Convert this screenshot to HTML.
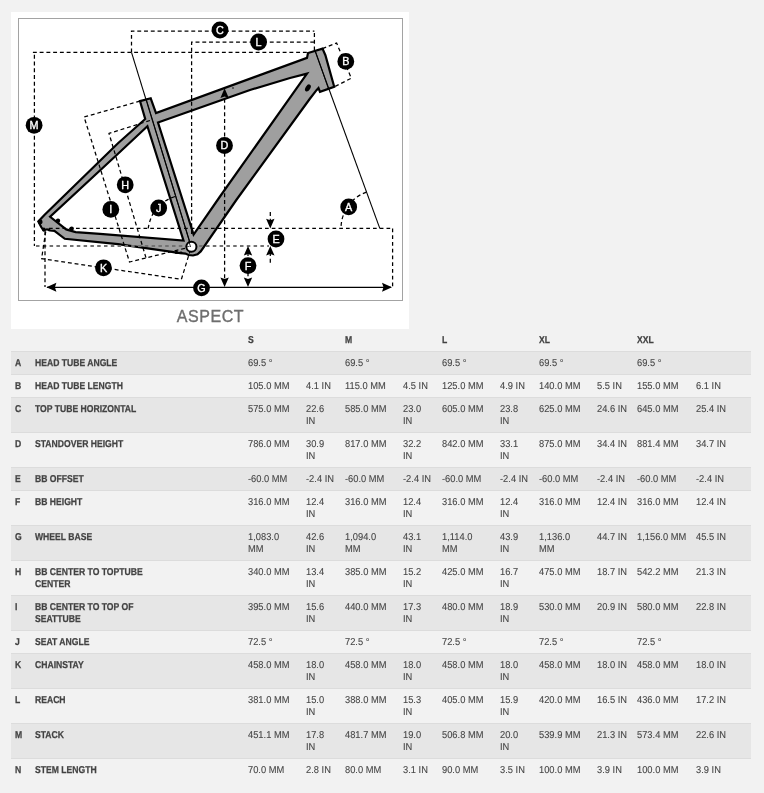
<!DOCTYPE html>
<html><head><meta charset="utf-8">
<style>
html,body{margin:0;padding:0;}
body{width:764px;height:793px;background:#f2f2f2;position:relative;overflow:hidden;font-family:"Liberation Sans",Arial,sans-serif;color:#555;}
#panel{position:absolute;left:11px;top:12px;width:398px;height:317px;background:#fff;}
#frame{position:absolute;left:17.5px;top:17.5px;width:383.5px;height:281.5px;border:1.5px solid #a3a3a3;}
#aspect{position:absolute;left:0;top:307px;width:420px;text-align:center;font-size:16px;letter-spacing:0.6px;text-indent:0.9px;color:#6e6e6e;line-height:20px;-webkit-text-stroke:0.35px #6e6e6e;}
#draw{position:absolute;left:0;top:0;}
.row{position:absolute;left:11px;width:740px;box-sizing:border-box;}
.d{background:#e6e6e6;border-top:1px solid #dcdcdc;}
.l{background:#f2f2f2;border-top:1px solid #dcdcdc;}
.c{position:absolute;font-size:10px;line-height:12px;white-space:nowrap;text-rendering:geometricPrecision;transform:scaleX(0.932);transform-origin:0 0;color:#454545;-webkit-text-stroke:0.1px #454545;}
.b{font-weight:bold;transform:scaleX(0.86);color:#424242;-webkit-text-stroke:0.25px #424242;}
</style></head><body>
<div id="panel"></div>
<div id="frame"></div>
<div id="aspect">ASPECT</div>
<svg id="draw" width="420" height="330" viewBox="0 0 420 330">
<path d="M140,101.1 L150.7,98.3 L156,113.1 L307,57.9 L308,53 L322.5,48.6 L325.4,55.2 L334.2,86.8 L320,91.8 L318.5,88 L316.5,90.2 L309.3,99.5 L236.3,200 L200.7,251.4 L197.5,254.3 L193,255.5 L188.5,255 L185.5,253.6 L176,252.6 L172,251.9 L118,244.2 L64.8,238.8 L54.4,230.8 L50,230.5 L47,229.3 L43.5,230.5 L41.2,227 L38.3,221.5 L44.4,215 L118,143.2 L145.2,119 Z M158,122.5 L250,90 L290,78 L307,73.6 L219.3,197.5 L193.6,234.6 Z M147.4,126.2 L118,153.7 L50.1,216.8 L66.2,229.4 L75.6,232.1 L100,233.9 L183.5,240.5 Z" fill="#9f9f9f" fill-rule="evenodd" stroke="#000" stroke-width="2.2" stroke-linejoin="miter"/>
<polyline points="34.4,54.8 34.4,246" stroke="#000" stroke-width="1.25" stroke-dasharray="3.9 2.85" fill="none"/>
<polyline points="32.9,52.3 307,52.3" stroke="#000" stroke-width="1.25" stroke-dasharray="3.9 2.85" fill="none"/>
<polyline points="36,246 269,246" stroke="#727272" stroke-width="2" stroke-dasharray="3.5 3.3" fill="none"/>
<polyline points="131.5,52.3 131.5,31.1 314.4,31.1" stroke="#000" stroke-width="1.25" stroke-dasharray="3.9 2.85" fill="none"/>
<polyline points="314.4,50.5 314.4,31.1" stroke="#000" stroke-width="1.25" stroke-dasharray="3.9 2.85" fill="none"/>
<polyline points="191.6,234 191.6,42.2 314.6,42.2" stroke="#000" stroke-width="1.25" stroke-dasharray="3.9 2.85" fill="none"/>
<polyline points="224.6,92 224.6,280" stroke="#000" stroke-width="1.25" stroke-dasharray="3.9 2.85" fill="none"/>
<polyline points="49,228.4 392.6,228.4" stroke="#000" stroke-width="1.3" stroke-dasharray="3.7 3.05" fill="none"/>
<polyline points="392.6,228.4 392.6,287" stroke="#000" stroke-width="1.25" stroke-dasharray="3.9 2.85" fill="none"/>
<polyline points="45,231 45,287" stroke="#000" stroke-width="1.25" stroke-dasharray="3.9 2.85" fill="none"/>
<polyline points="248,252 248,281" stroke="#000" stroke-width="1.25" stroke-dasharray="3.9 2.85" fill="none"/>
<polyline points="270.3,212 270.3,222" stroke="#000" stroke-width="1.25" stroke-dasharray="3.9 2.85" fill="none"/>
<polyline points="270.3,252 270.3,263" stroke="#000" stroke-width="1.25" stroke-dasharray="3.9 2.85" fill="none"/>
<polyline points="322.5,48.6 336.6,43 351.3,78.2 334,87" stroke="#000" stroke-width="1.25" stroke-dasharray="3.9 2.85" fill="none"/>
<polyline points="140,101.1 84.1,117 129.5,262 191.4,246.7" stroke="#000" stroke-width="1.25" stroke-dasharray="3.9 2.85" fill="none"/>
<polyline points="150,120.5 109,133.4 146,257.9" stroke="#000" stroke-width="1.25" stroke-dasharray="3.9 2.85" fill="none"/>
<polyline points="45.7,231.6 41.6,258.7 181.4,279.3 191,248" stroke="#000" stroke-width="1.25" stroke-dasharray="3.9 2.85" fill="none"/>
<path d="M366.4,192.1 A38.5,38.5 0 0 0 341,228.4" stroke="#000" stroke-width="1.25" stroke-dasharray="3.9 2.85" fill="none"/>
<path d="M175,196.5 Q152,204 148.2,228.4" stroke="#000" stroke-width="1.25" stroke-dasharray="3.9 2.85" fill="none"/>
<line x1="314.7" y1="50" x2="379.8" y2="228.4" stroke="#000" stroke-width="1.1"/>
<line x1="131.5" y1="52.3" x2="191" y2="246" stroke="#000" stroke-width="1.1"/>
<line x1="47" y1="287.3" x2="391" y2="287.3" stroke="#000" stroke-width="1.3"/>
<line x1="146" y1="98.5" x2="189" y2="240" stroke="#000" stroke-width="0.9"/>
<line x1="315" y1="50" x2="328.5" y2="89" stroke="#000" stroke-width="0.9"/>
<ellipse cx="307.9" cy="87.9" rx="3.9" ry="2.3" transform="rotate(-57 307.9 87.9)" fill="#000"/>
<circle cx="191.4" cy="246.7" r="5.05" fill="#fff" stroke="#000" stroke-width="2"/>
<line x1="188.6" y1="240.5" x2="190.6" y2="247" stroke="#000" stroke-width="0.8"/>
<line x1="187" y1="246.5" x2="189.5" y2="246.5" stroke="#555" stroke-width="1"/>
<circle cx="58" cy="220.7" r="2.2" fill="#000"/>
<circle cx="71.7" cy="228.6" r="2.2" fill="#000"/>
<circle cx="40.3" cy="221.9" r="2.3" fill="#000"/>
<circle cx="43.8" cy="229.4" r="1.8" fill="#000"/>
<circle cx="49" cy="229.9" r="1.3" fill="#000"/>
<circle cx="176.5" cy="252.4" r="1.7" fill="#000"/>
<circle cx="181" cy="252.8" r="1.4" fill="#000"/>
<polygon points="224.6,88.3 220.4,97.9 224.6,96.4 228.8,97.9" fill="#000"/>
<circle cx="233" cy="88" r="0.8" fill="#000"/>
<polygon points="224.6,287.0 220.4,277.4 224.6,278.9 228.8,277.4" fill="#000"/>
<polygon points="248.0,246.0 243.8,255.6 248.0,254.1 252.2,255.6" fill="#000"/>
<polygon points="248.0,287.0 243.8,277.4 248.0,278.9 252.2,277.4" fill="#000"/>
<polygon points="270.3,228.4 266.1,218.8 270.3,220.3 274.5,218.8" fill="#000"/>
<polygon points="270.3,246.0 266.1,255.6 270.3,254.1 274.5,255.6" fill="#000"/>
<polygon points="46.4,287.3 56.4,282.8 54.9,287.3 56.4,291.8" fill="#000"/>
<polygon points="392.0,287.3 382.0,282.8 383.5,287.3 382.0,291.8" fill="#000"/>
<circle cx="220" cy="30" r="8.4" fill="#000"/><text x="220" y="33.95" text-anchor="middle" font-family="Liberation Sans, Arial, sans-serif" font-size="10.8" fill="#fff" stroke="#fff" stroke-width="0.35">C</text>
<circle cx="258.6" cy="42" r="8.4" fill="#000"/><text x="258.6" y="45.95" text-anchor="middle" font-family="Liberation Sans, Arial, sans-serif" font-size="10.8" fill="#fff" stroke="#fff" stroke-width="0.35">L</text>
<circle cx="345.8" cy="61.4" r="8.4" fill="#000"/><text x="345.8" y="65.35" text-anchor="middle" font-family="Liberation Sans, Arial, sans-serif" font-size="10.8" fill="#fff" stroke="#fff" stroke-width="0.35">B</text>
<circle cx="34.1" cy="125.3" r="8.4" fill="#000"/><text x="34.1" y="129.25" text-anchor="middle" font-family="Liberation Sans, Arial, sans-serif" font-size="10.8" fill="#fff" stroke="#fff" stroke-width="0.35">M</text>
<circle cx="224.5" cy="145.5" r="8.4" fill="#000"/><text x="224.5" y="149.45" text-anchor="middle" font-family="Liberation Sans, Arial, sans-serif" font-size="10.8" fill="#fff" stroke="#fff" stroke-width="0.35">D</text>
<circle cx="125.2" cy="184.8" r="8.4" fill="#000"/><text x="125.2" y="188.75" text-anchor="middle" font-family="Liberation Sans, Arial, sans-serif" font-size="10.8" fill="#fff" stroke="#fff" stroke-width="0.35">H</text>
<circle cx="110.8" cy="209.4" r="8.4" fill="#000"/><text x="110.8" y="213.35" text-anchor="middle" font-family="Liberation Sans, Arial, sans-serif" font-size="10.8" fill="#fff" stroke="#fff" stroke-width="0.35">I</text>
<circle cx="158.7" cy="208" r="8.4" fill="#000"/><text x="158.7" y="211.95" text-anchor="middle" font-family="Liberation Sans, Arial, sans-serif" font-size="10.8" fill="#fff" stroke="#fff" stroke-width="0.35">J</text>
<circle cx="348.7" cy="206.9" r="8.4" fill="#000"/><text x="348.7" y="210.85" text-anchor="middle" font-family="Liberation Sans, Arial, sans-serif" font-size="10.8" fill="#fff" stroke="#fff" stroke-width="0.35">A</text>
<circle cx="276" cy="239" r="8.4" fill="#000"/><text x="276" y="242.95" text-anchor="middle" font-family="Liberation Sans, Arial, sans-serif" font-size="10.8" fill="#fff" stroke="#fff" stroke-width="0.35">E</text>
<circle cx="248" cy="265.6" r="8.4" fill="#000"/><text x="248" y="269.55" text-anchor="middle" font-family="Liberation Sans, Arial, sans-serif" font-size="10.8" fill="#fff" stroke="#fff" stroke-width="0.35">F</text>
<circle cx="103.5" cy="267.8" r="8.4" fill="#000"/><text x="103.5" y="271.75" text-anchor="middle" font-family="Liberation Sans, Arial, sans-serif" font-size="10.8" fill="#fff" stroke="#fff" stroke-width="0.35">K</text>
<circle cx="201.5" cy="287.9" r="8.4" fill="#000"/><text x="201.5" y="291.85" text-anchor="middle" font-family="Liberation Sans, Arial, sans-serif" font-size="10.8" fill="#fff" stroke="#fff" stroke-width="0.35">G</text>
</svg>
<div class="row hdr" style="top:329px;height:22px">
<span class="c b" style="left:236.5px;top:6.0px">S</span>
<span class="c b" style="left:334px;top:6.0px">M</span>
<span class="c b" style="left:431px;top:6.0px">L</span>
<span class="c b" style="left:528px;top:6.0px">XL</span>
<span class="c b" style="left:626px;top:6.0px">XXL</span>
</div>
<div class="row d" style="top:351px;height:23px">
<span class="c b" style="left:4px;top:6.0px">A</span>
<span class="c b" style="left:23.6px;top:6.0px">HEAD TUBE ANGLE</span>
<span class="c" style="left:236.5px;top:6.0px">69.5 °</span>
<span class="c" style="left:334px;top:6.0px">69.5 °</span>
<span class="c" style="left:431px;top:6.0px">69.5 °</span>
<span class="c" style="left:528px;top:6.0px">69.5 °</span>
<span class="c" style="left:626px;top:6.0px">69.5 °</span>
</div>
<div class="row l" style="top:374px;height:23px">
<span class="c b" style="left:4px;top:6.0px">B</span>
<span class="c b" style="left:23.6px;top:6.0px">HEAD TUBE LENGTH</span>
<span class="c" style="left:236.5px;top:6.0px">105.0 MM</span>
<span class="c" style="left:294.5px;top:6.0px">4.1 IN</span>
<span class="c" style="left:334px;top:6.0px">115.0 MM</span>
<span class="c" style="left:392px;top:6.0px">4.5 IN</span>
<span class="c" style="left:431px;top:6.0px">125.0 MM</span>
<span class="c" style="left:489px;top:6.0px">4.9 IN</span>
<span class="c" style="left:528px;top:6.0px">140.0 MM</span>
<span class="c" style="left:586px;top:6.0px">5.5 IN</span>
<span class="c" style="left:626px;top:6.0px">155.0 MM</span>
<span class="c" style="left:684.5px;top:6.0px">6.1 IN</span>
</div>
<div class="row d" style="top:397px;height:35px">
<span class="c b" style="left:4px;top:6.0px">C</span>
<span class="c b" style="left:23.6px;top:6.0px">TOP TUBE HORIZONTAL</span>
<span class="c" style="left:236.5px;top:6.0px">575.0 MM</span>
<span class="c" style="left:294.5px;top:6.0px">22.6<br>IN</span>
<span class="c" style="left:334px;top:6.0px">585.0 MM</span>
<span class="c" style="left:392px;top:6.0px">23.0<br>IN</span>
<span class="c" style="left:431px;top:6.0px">605.0 MM</span>
<span class="c" style="left:489px;top:6.0px">23.8<br>IN</span>
<span class="c" style="left:528px;top:6.0px">625.0 MM</span>
<span class="c" style="left:586px;top:6.0px">24.6 IN</span>
<span class="c" style="left:626px;top:6.0px">645.0 MM</span>
<span class="c" style="left:684.5px;top:6.0px">25.4 IN</span>
</div>
<div class="row l" style="top:432px;height:35px">
<span class="c b" style="left:4px;top:6.0px">D</span>
<span class="c b" style="left:23.6px;top:6.0px">STANDOVER HEIGHT</span>
<span class="c" style="left:236.5px;top:6.0px">786.0 MM</span>
<span class="c" style="left:294.5px;top:6.0px">30.9<br>IN</span>
<span class="c" style="left:334px;top:6.0px">817.0 MM</span>
<span class="c" style="left:392px;top:6.0px">32.2<br>IN</span>
<span class="c" style="left:431px;top:6.0px">842.0 MM</span>
<span class="c" style="left:489px;top:6.0px">33.1<br>IN</span>
<span class="c" style="left:528px;top:6.0px">875.0 MM</span>
<span class="c" style="left:586px;top:6.0px">34.4 IN</span>
<span class="c" style="left:626px;top:6.0px">881.4 MM</span>
<span class="c" style="left:684.5px;top:6.0px">34.7 IN</span>
</div>
<div class="row d" style="top:467px;height:23px">
<span class="c b" style="left:4px;top:6.0px">E</span>
<span class="c b" style="left:23.6px;top:6.0px">BB OFFSET</span>
<span class="c" style="left:236.5px;top:6.0px">-60.0 MM</span>
<span class="c" style="left:294.5px;top:6.0px">-2.4 IN</span>
<span class="c" style="left:334px;top:6.0px">-60.0 MM</span>
<span class="c" style="left:392px;top:6.0px">-2.4 IN</span>
<span class="c" style="left:431px;top:6.0px">-60.0 MM</span>
<span class="c" style="left:489px;top:6.0px">-2.4 IN</span>
<span class="c" style="left:528px;top:6.0px">-60.0 MM</span>
<span class="c" style="left:586px;top:6.0px">-2.4 IN</span>
<span class="c" style="left:626px;top:6.0px">-60.0 MM</span>
<span class="c" style="left:684.5px;top:6.0px">-2.4 IN</span>
</div>
<div class="row l" style="top:490px;height:35px">
<span class="c b" style="left:4px;top:6.0px">F</span>
<span class="c b" style="left:23.6px;top:6.0px">BB HEIGHT</span>
<span class="c" style="left:236.5px;top:6.0px">316.0 MM</span>
<span class="c" style="left:294.5px;top:6.0px">12.4<br>IN</span>
<span class="c" style="left:334px;top:6.0px">316.0 MM</span>
<span class="c" style="left:392px;top:6.0px">12.4<br>IN</span>
<span class="c" style="left:431px;top:6.0px">316.0 MM</span>
<span class="c" style="left:489px;top:6.0px">12.4<br>IN</span>
<span class="c" style="left:528px;top:6.0px">316.0 MM</span>
<span class="c" style="left:586px;top:6.0px">12.4 IN</span>
<span class="c" style="left:626px;top:6.0px">316.0 MM</span>
<span class="c" style="left:684.5px;top:6.0px">12.4 IN</span>
</div>
<div class="row d" style="top:525px;height:35px">
<span class="c b" style="left:4px;top:6.0px">G</span>
<span class="c b" style="left:23.6px;top:6.0px">WHEEL BASE</span>
<span class="c" style="left:236.5px;top:6.0px">1,083.0<br>MM</span>
<span class="c" style="left:294.5px;top:6.0px">42.6<br>IN</span>
<span class="c" style="left:334px;top:6.0px">1,094.0<br>MM</span>
<span class="c" style="left:392px;top:6.0px">43.1<br>IN</span>
<span class="c" style="left:431px;top:6.0px">1,114.0<br>MM</span>
<span class="c" style="left:489px;top:6.0px">43.9<br>IN</span>
<span class="c" style="left:528px;top:6.0px">1,136.0<br>MM</span>
<span class="c" style="left:586px;top:6.0px">44.7 IN</span>
<span class="c" style="left:626px;top:6.0px">1,156.0 MM</span>
<span class="c" style="left:684.5px;top:6.0px">45.5 IN</span>
</div>
<div class="row l" style="top:560px;height:35px">
<span class="c b" style="left:4px;top:6.0px">H</span>
<span class="c b" style="left:23.6px;top:6.0px">BB CENTER TO TOPTUBE<br>CENTER</span>
<span class="c" style="left:236.5px;top:6.0px">340.0 MM</span>
<span class="c" style="left:294.5px;top:6.0px">13.4<br>IN</span>
<span class="c" style="left:334px;top:6.0px">385.0 MM</span>
<span class="c" style="left:392px;top:6.0px">15.2<br>IN</span>
<span class="c" style="left:431px;top:6.0px">425.0 MM</span>
<span class="c" style="left:489px;top:6.0px">16.7<br>IN</span>
<span class="c" style="left:528px;top:6.0px">475.0 MM</span>
<span class="c" style="left:586px;top:6.0px">18.7 IN</span>
<span class="c" style="left:626px;top:6.0px">542.2 MM</span>
<span class="c" style="left:684.5px;top:6.0px">21.3 IN</span>
</div>
<div class="row d" style="top:595px;height:35px">
<span class="c b" style="left:4px;top:6.0px">I</span>
<span class="c b" style="left:23.6px;top:6.0px">BB CENTER TO TOP OF<br>SEATTUBE</span>
<span class="c" style="left:236.5px;top:6.0px">395.0 MM</span>
<span class="c" style="left:294.5px;top:6.0px">15.6<br>IN</span>
<span class="c" style="left:334px;top:6.0px">440.0 MM</span>
<span class="c" style="left:392px;top:6.0px">17.3<br>IN</span>
<span class="c" style="left:431px;top:6.0px">480.0 MM</span>
<span class="c" style="left:489px;top:6.0px">18.9<br>IN</span>
<span class="c" style="left:528px;top:6.0px">530.0 MM</span>
<span class="c" style="left:586px;top:6.0px">20.9 IN</span>
<span class="c" style="left:626px;top:6.0px">580.0 MM</span>
<span class="c" style="left:684.5px;top:6.0px">22.8 IN</span>
</div>
<div class="row l" style="top:630px;height:23px">
<span class="c b" style="left:4px;top:6.0px">J</span>
<span class="c b" style="left:23.6px;top:6.0px">SEAT ANGLE</span>
<span class="c" style="left:236.5px;top:6.0px">72.5 °</span>
<span class="c" style="left:334px;top:6.0px">72.5 °</span>
<span class="c" style="left:431px;top:6.0px">72.5 °</span>
<span class="c" style="left:528px;top:6.0px">72.5 °</span>
<span class="c" style="left:626px;top:6.0px">72.5 °</span>
</div>
<div class="row d" style="top:653px;height:35px">
<span class="c b" style="left:4px;top:6.0px">K</span>
<span class="c b" style="left:23.6px;top:6.0px">CHAINSTAY</span>
<span class="c" style="left:236.5px;top:6.0px">458.0 MM</span>
<span class="c" style="left:294.5px;top:6.0px">18.0<br>IN</span>
<span class="c" style="left:334px;top:6.0px">458.0 MM</span>
<span class="c" style="left:392px;top:6.0px">18.0<br>IN</span>
<span class="c" style="left:431px;top:6.0px">458.0 MM</span>
<span class="c" style="left:489px;top:6.0px">18.0<br>IN</span>
<span class="c" style="left:528px;top:6.0px">458.0 MM</span>
<span class="c" style="left:586px;top:6.0px">18.0 IN</span>
<span class="c" style="left:626px;top:6.0px">458.0 MM</span>
<span class="c" style="left:684.5px;top:6.0px">18.0 IN</span>
</div>
<div class="row l" style="top:688px;height:35px">
<span class="c b" style="left:4px;top:6.0px">L</span>
<span class="c b" style="left:23.6px;top:6.0px">REACH</span>
<span class="c" style="left:236.5px;top:6.0px">381.0 MM</span>
<span class="c" style="left:294.5px;top:6.0px">15.0<br>IN</span>
<span class="c" style="left:334px;top:6.0px">388.0 MM</span>
<span class="c" style="left:392px;top:6.0px">15.3<br>IN</span>
<span class="c" style="left:431px;top:6.0px">405.0 MM</span>
<span class="c" style="left:489px;top:6.0px">15.9<br>IN</span>
<span class="c" style="left:528px;top:6.0px">420.0 MM</span>
<span class="c" style="left:586px;top:6.0px">16.5 IN</span>
<span class="c" style="left:626px;top:6.0px">436.0 MM</span>
<span class="c" style="left:684.5px;top:6.0px">17.2 IN</span>
</div>
<div class="row d" style="top:723px;height:35px">
<span class="c b" style="left:4px;top:6.0px">M</span>
<span class="c b" style="left:23.6px;top:6.0px">STACK</span>
<span class="c" style="left:236.5px;top:6.0px">451.1 MM</span>
<span class="c" style="left:294.5px;top:6.0px">17.8<br>IN</span>
<span class="c" style="left:334px;top:6.0px">481.7 MM</span>
<span class="c" style="left:392px;top:6.0px">19.0<br>IN</span>
<span class="c" style="left:431px;top:6.0px">506.8 MM</span>
<span class="c" style="left:489px;top:6.0px">20.0<br>IN</span>
<span class="c" style="left:528px;top:6.0px">539.9 MM</span>
<span class="c" style="left:586px;top:6.0px">21.3 IN</span>
<span class="c" style="left:626px;top:6.0px">573.4 MM</span>
<span class="c" style="left:684.5px;top:6.0px">22.6 IN</span>
</div>
<div class="row l" style="top:758px;height:23px">
<span class="c b" style="left:4px;top:6.0px">N</span>
<span class="c b" style="left:23.6px;top:6.0px">STEM LENGTH</span>
<span class="c" style="left:236.5px;top:6.0px">70.0 MM</span>
<span class="c" style="left:294.5px;top:6.0px">2.8 IN</span>
<span class="c" style="left:334px;top:6.0px">80.0 MM</span>
<span class="c" style="left:392px;top:6.0px">3.1 IN</span>
<span class="c" style="left:431px;top:6.0px">90.0 MM</span>
<span class="c" style="left:489px;top:6.0px">3.5 IN</span>
<span class="c" style="left:528px;top:6.0px">100.0 MM</span>
<span class="c" style="left:586px;top:6.0px">3.9 IN</span>
<span class="c" style="left:626px;top:6.0px">100.0 MM</span>
<span class="c" style="left:684.5px;top:6.0px">3.9 IN</span>
</div>
</body></html>
